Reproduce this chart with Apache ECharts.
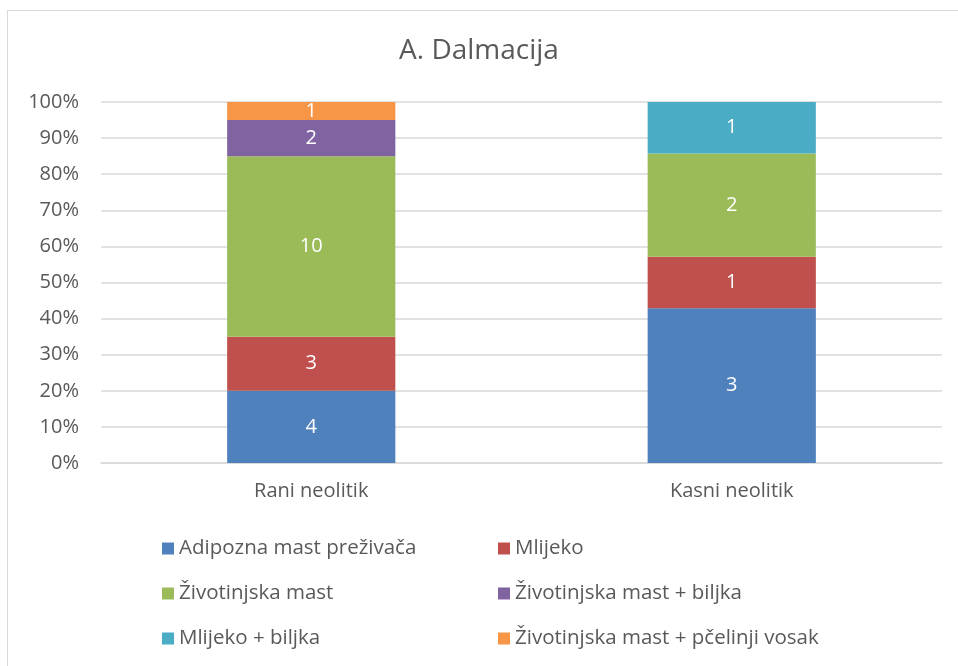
<!DOCTYPE html>
<html>
<head>
<meta charset="utf-8">
<script src="https://cdn.jsdelivr.net/npm/echarts@6/dist/echarts.min.js"></script>
<style>
  html, body { margin: 0; padding: 0; background: #fff; }
  #frame { position: absolute; left: 7px; top: 10px; width: 970px; height: 680px;
           border: 1.5px solid #d9d9d9; box-sizing: border-box; }
  #chart { position: absolute; left: 0; top: 0; width: 958px; height: 666px; }
</style>
</head>
<body>
<div id="frame"></div>
<div id="chart"></div>
<script>
// Periods on the x axis
const categories = ['Rani neolitik', 'Kasni neolitik'];

// Number of samples per residue type, per period
const adipozna   = [4, 3];
const mlijeko    = [3, 1];
const zivMast    = [10, 2];
const zivBiljka  = [2, 0];
const mlijBiljka = [0, 1];
const zivVosak   = [1, 0];

// Percentage axis ticks
const yTicks = [0, 10, 20, 30, 40, 50, 60, 70, 80, 90, 100];

const seriesDefs = [
  { name: 'Adipozna mast preživača', data: adipozna, color: '#4f81bd' },
  { name: 'Mlijeko', data: mlijeko, color: '#c0504d' },
  { name: 'Životinjska mast', data: zivMast, color: '#9bbb59' },
  { name: 'Životinjska mast + biljka', data: zivBiljka, color: '#8064a2' },
  { name: 'Mlijeko + biljka', data: mlijBiljka, color: '#4bacc6' },
  { name: 'Životinjska mast + pčelinji vosak', data: zivVosak, color: '#f79646' }
];

// Column totals, used to turn counts into 100% stacks
const totals = categories.map((_, i) => seriesDefs.reduce((s, d) => s + d.data[i], 0));

const FONT = 'Open Sans';
const TEXT = '#595959';

const series = seriesDefs.map(d => ({
  name: d.name,
  type: 'bar',
  stack: 'all',
  barWidth: '40%',
  itemStyle: { color: d.color },
  data: d.data.map((v, i) => ({ value: v === 0 ? null : v / totals[i] * 100, count: v })),
  label: {
    show: true,
    position: 'inside',
    color: '#ffffff',
    fontFamily: FONT,
    fontSize: 20,
    formatter: p => (p.data && p.data.count) ? String(p.data.count) : ''
  }
}));

// Legend laid out as two columns of three rows
const col1 = seriesDefs.filter((_, i) => i % 2 === 0).map(d => d.name);
const col2 = seriesDefs.filter((_, i) => i % 2 === 1).map(d => d.name);
const legendBase = {
  orient: 'vertical',
  top: 538,
  padding: 0,
  itemWidth: 12,
  itemHeight: 12,
  itemGap: 24,
  icon: 'rect',
  textStyle: { color: TEXT, fontFamily: FONT, fontSize: 20.5, lineHeight: 20 }
};

const chart = echarts.init(document.getElementById('chart'), null, { renderer: 'canvas' });
chart.setOption({
  animation: false,
  color: seriesDefs.map(d => d.color),
  title: {
    text: 'A. Dalmacija',
    left: 'center',
    top: 32,
    textStyle: { color: TEXT, fontFamily: FONT, fontSize: 28, fontWeight: 'normal' }
  },
  legend: [
    Object.assign({}, legendBase, { left: 162, data: col1 }),
    Object.assign({}, legendBase, { left: 498, data: col2 })
  ],
  grid: { left: 101, right: 16, top: 102, bottom: 203, containLabel: false },
  xAxis: {
    type: 'category',
    data: categories,
    axisLine: { lineStyle: { color: '#d9d9d9', width: 1.5 } },
    axisTick: { show: false },
    axisLabel: { color: TEXT, fontFamily: FONT, fontSize: 20, margin: 18 }
  },
  yAxis: {
    type: 'value',
    min: yTicks[0],
    max: yTicks[yTicks.length - 1],
    interval: yTicks[1] - yTicks[0],
    axisLine: { show: false },
    axisTick: { show: false },
    splitLine: { lineStyle: { color: '#d9d9d9', width: 1.5 } },
    axisLabel: { color: TEXT, fontFamily: FONT, fontSize: 20, margin: 22, formatter: '{value}%' }
  },
  series: series
});
</script>
</body>
</html>
